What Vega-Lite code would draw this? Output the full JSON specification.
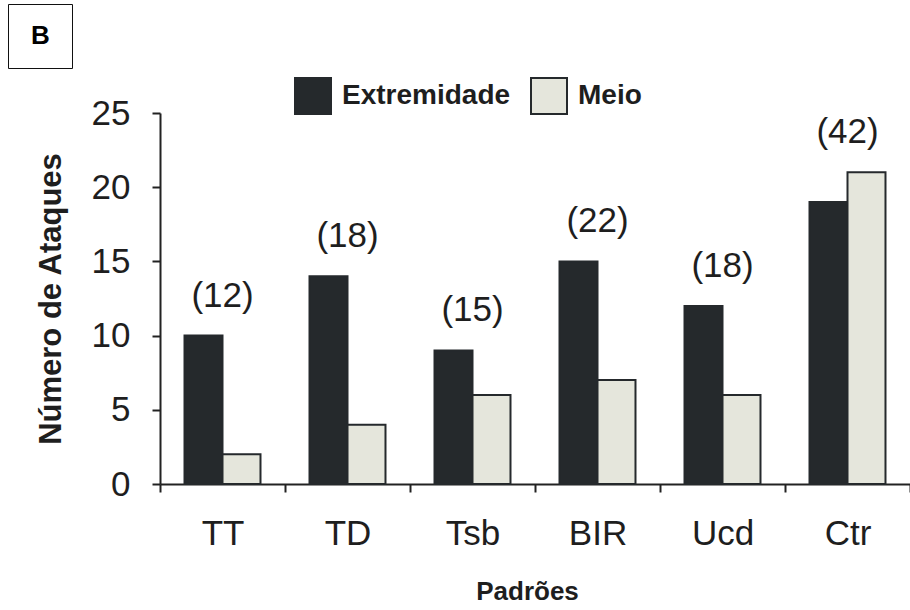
{
  "$schema": "https://vega.github.io/schema/vega-lite/v6.json",
  "width": 750,
  "height": 371,
  "autosize": {"type": "none"},
  "padding": {"left": 160, "top": 113, "right": 0, "bottom": 126},
  "background": "white",
  "config": {
    "view": {"stroke": null},
    "font": "Liberation Sans",
    "axis": {
      "grid": false,
      "domainColor": "#222222",
      "domainWidth": 2,
      "tickColor": "#222222",
      "tickWidth": 2,
      "tickSize": 8,
      "labelFont": "Liberation Sans",
      "labelFontSize": 35,
      "labelColor": "#1e1e1e",
      "titleFont": "Liberation Sans",
      "titleFontWeight": "bold",
      "titleColor": "#1e1e1e"
    }
  },
  "data": {
    "values": [
      {"categoria": "TT", "serie": "Extremidade", "valor": 10, "rotulo": "(12)", "painel": "B"},
      {"categoria": "TT", "serie": "Meio", "valor": 2, "rotulo": "(12)", "painel": "B"},
      {"categoria": "TD", "serie": "Extremidade", "valor": 14, "rotulo": "(18)", "painel": "B"},
      {"categoria": "TD", "serie": "Meio", "valor": 4, "rotulo": "(18)", "painel": "B"},
      {"categoria": "Tsb", "serie": "Extremidade", "valor": 9, "rotulo": "(15)", "painel": "B"},
      {"categoria": "Tsb", "serie": "Meio", "valor": 6, "rotulo": "(15)", "painel": "B"},
      {"categoria": "BIR", "serie": "Extremidade", "valor": 15, "rotulo": "(22)", "painel": "B"},
      {"categoria": "BIR", "serie": "Meio", "valor": 7, "rotulo": "(22)", "painel": "B"},
      {"categoria": "Ucd", "serie": "Extremidade", "valor": 12, "rotulo": "(18)", "painel": "B"},
      {"categoria": "Ucd", "serie": "Meio", "valor": 6, "rotulo": "(18)", "painel": "B"},
      {"categoria": "Ctr", "serie": "Extremidade", "valor": 19, "rotulo": "(42)", "painel": "B"},
      {"categoria": "Ctr", "serie": "Meio", "valor": 21, "rotulo": "(42)", "painel": "B"}
    ]
  },
  "encoding": {
    "x": {
      "field": "categoria",
      "type": "nominal",
      "sort": ["TT", "TD", "Tsb", "BIR", "Ucd", "Ctr"],
      "scale": {"paddingInner": 0, "paddingOuter": 0},
      "axis": {
        "title": "Padrões",
        "titleFontSize": 26,
        "titleX": 367,
        "labelAngle": 0,
        "tickBand": "extent",
        "labelPadding": 24,
        "titlePadding": 27
      }
    }
  },
  "layer": [
    {
      "mark": {"type": "bar", "stroke": "#25292c", "strokeWidth": 2},
      "encoding": {
        "xOffset": {
          "field": "serie",
          "sort": ["Extremidade", "Meio"],
          "scale": {"paddingInner": 0, "paddingOuter": 0.645}
        },
        "y": {
          "field": "valor",
          "type": "quantitative",
          "scale": {"domain": [0, 25], "nice": false},
          "axis": {
            "title": "Número de Ataques",
            "titleFontSize": 31,
            "values": [0, 5, 10, 15, 20, 25],
            "labelPadding": 22,
            "titlePadding": 24
          }
        },
        "color": {
          "field": "serie",
          "type": "nominal",
          "scale": {"domain": ["Extremidade", "Meio"], "range": ["#25292c", "#e5e6dc"]},
          "legend": {
            "orient": "none",
            "legendX": 134,
            "legendY": -36,
            "direction": "horizontal",
            "title": null,
            "padding": 0,
            "symbolType": "square",
            "symbolSize": 1296,
            "symbolStrokeColor": "#25292c",
            "symbolStrokeWidth": 2,
            "symbolOpacity": 1,
            "labelFont": "Liberation Sans",
            "labelFontSize": 28,
            "labelFontWeight": "bold",
            "labelColor": "#1e1e1e",
            "labelLimit": 400,
            "labelOffset": 10,
            "columnPadding": 16
          }
        }
      }
    },
    {
      "transform": [
        {"joinaggregate": [{"op": "max", "field": "valor", "as": "topo"}], "groupby": ["categoria"]},
        {"filter": "datum.serie === 'Extremidade'"}
      ],
      "mark": {"type": "text", "baseline": "middle", "align": "center", "dy": -40, "fontSize": 35, "color": "#1e1e1e", "font": "Liberation Sans"},
      "encoding": {
        "y": {"field": "topo", "type": "quantitative", "title": "Número de Ataques"},
        "text": {"field": "rotulo"}
      }
    },
    {
      "transform": [{"filter": "datum.serie === 'Extremidade'"}],
      "mark": {"type": "point", "opacity": 0},
      "encoding": {
        "y": {"field": "valor", "type": "quantitative", "title": "Número de Ataques"},
        "shape": {
          "field": "painel",
          "type": "nominal",
          "scale": {"range": ["square"]},
          "legend": {
            "orient": "none",
            "legendX": -152,
            "legendY": -109,
            "title": null,
            "padding": 16,
            "strokeColor": "#111111",
            "symbolSize": 1024,
            "symbolOpacity": 0,
            "symbolStrokeWidth": 0,
            "labelOffset": -25,
            "labelFont": "Liberation Sans",
            "labelFontSize": 26,
            "labelFontWeight": "bold",
            "labelColor": "#000000",
            "encode": {"legend": {"update": {"strokeWidth": {"value": 2}}}}
          }
        }
      }
    }
  ]
}
